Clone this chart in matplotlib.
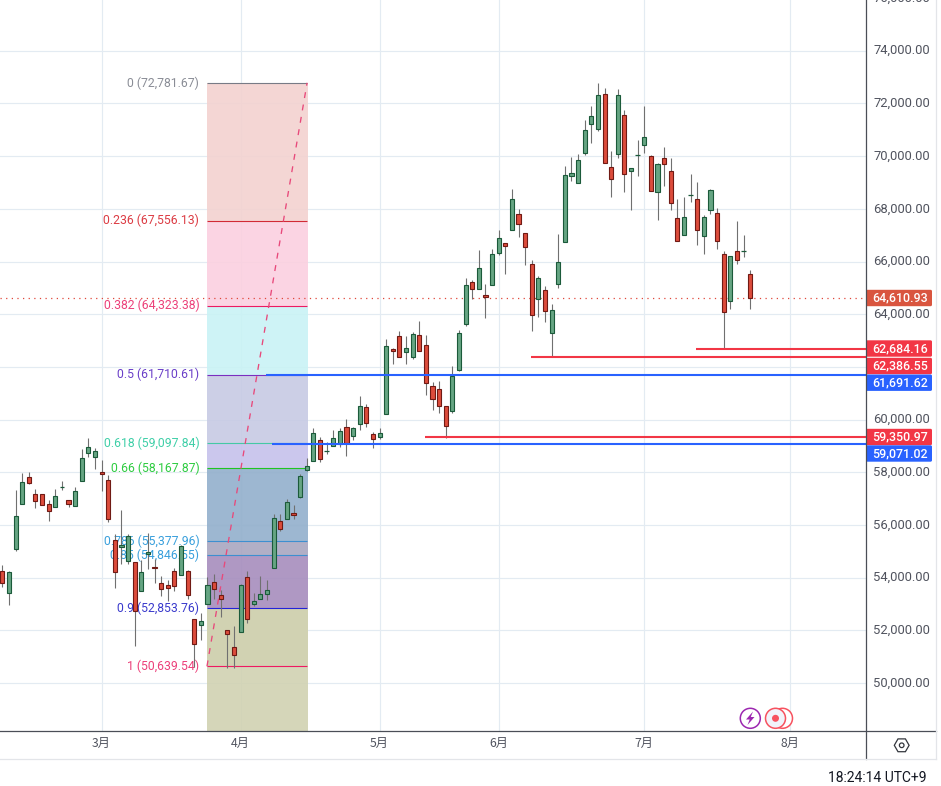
import matplotlib
matplotlib.use("Agg")
import matplotlib.pyplot as plt
from matplotlib.patches import Rectangle, Circle, Polygon, RegularPolygon, FancyBboxPatch

FONT = "Roboto"
CJK = ["Noto Sans CJK JP", "DejaVu Sans"]

opens = [54270,53440,55100,56810,57840,57190,57180,56800,56700,57440,56960,56740,57680,58750,58590,58020,57720,55450,55180,54650,
         54610,53510,54920,54420,53800,53740,54270,54120,54270,52450,52220,53020,53850,53360,52030,51390,51960,54040,53020,53210,
         53400,54380,56170,56240,56470,57060,58090,58440,59240,58820,59010,59090,59730,59390,59830,60490,59470,59350,60220,62690,
         63180,62560,62380,63220,62840,61290,61170,60530,60340,61890,63640,65230,64960,64740,65120,66330,66710,67200,67810,67090,
         65910,64580,64930,63290,65150,66750,69250,68980,70120,71220,71030,72360,69590,70080,71560,69440,70040,70420,70010,68640,
         69930,69440,67660,67010,68530,68380,66970,67960,67850,66290,64510,66400,66400,65530]
highs = [54470,54270,57320,57960,58000,57380,57190,56940,57380,57680,56960,57430,58870,59310,58910,58450,57890,55670,56580,55670,
         54610,54660,55710,54730,54060,53930,54380,55230,54310,52450,52680,54010,54160,53550,52030,52160,53750,54250,53420,54060,
         53900,56410,56410,57000,56750,57950,58560,59670,59350,59160,59590,59690,60010,59730,60880,60600,59540,59690,63070,62700,
         63380,63190,63330,63760,63230,61440,61450,60530,62020,63410,65380,65280,66420,65130,66480,67200,66710,68760,68010,67090,
         66060,65460,65080,64370,67060,69630,69980,70080,71370,71900,72790,72590,70210,72550,71750,69550,70630,71900,70040,69740,
         70360,69930,68380,68430,69340,69030,67770,68770,68050,66400,66220,67550,66990,65680]
lows = [53650,52960,55020,56810,57570,56650,56770,56150,56700,57320,56670,56740,57680,58580,58110,57290,56120,53610,54540,54540,
        51410,53510,54350,53820,53310,53130,53500,54120,53210,50620,51650,53020,53210,52510,50580,50580,51960,52300,52940,53210,
        53170,54380,55780,56240,56230,57040,58050,58440,58380,58680,59010,58980,58610,59210,59590,59710,58910,59260,60220,62130,
        62380,62130,62320,62610,60920,60350,60240,59310,60270,61830,63540,64580,64960,63840,65120,66240,65540,67200,66920,65850,
        63380,63910,63720,62370,64990,66750,69070,68980,70060,70490,70970,69740,68440,69940,68630,67970,69260,70100,68680,67590,
        68880,67970,66780,67010,68240,66640,66270,67820,66490,62684,64180,65920,66190,64180]
closes = [53820,54230,56360,57650,57600,56930,56770,56550,57110,57440,56810,57300,58560,58960,58810,57950,56240,54230,55260,55600,
          52720,54230,54990,54380,53590,53630,53700,55220,53360,51500,52370,53740,53590,53210,51880,51050,53740,52450,53100,53400,
          53550,56280,55860,56890,56390,57870,58250,59500,58490,58820,59310,59580,59110,59690,60530,59880,59280,59500,62800,62610,
          62380,62730,63260,62610,61400,60790,60530,59770,61660,63300,65120,64960,65760,64660,66290,66900,66590,68380,67430,66560,
          63980,65380,64130,64170,65990,69290,69360,69850,70990,71520,72320,69740,69130,72320,69320,69550,70040,70730,68680,69700,
          69700,68220,66780,67690,68530,67200,67690,68720,66780,64090,66210,66060,66400,64610.93]

month_labels = ["3月", "4月", "5月", "6月", "7月", "8月"]
month_bars = [15, 36, 57, 75, 97, 119]
price_ticks = [50000, 52000, 54000, 56000, 58000, 60000, 62000, 64000, 66000, 68000, 70000, 72000, 74000]
price_hidden = [62000]
price_clipped = 76000

fib_ratios = ["0", "0.236", "0.382", "0.5", "0.618", "0.66", "0.786", "0.85", "0.9", "1"]
fib_levels = [72781.67, 67556.13, 64323.38, 61710.61, 59097.84, 58167.87, 55377.96, 54846.55, 52853.76, 50639.54]
fib_line_colors = ["#787b86", "#d12a35", "#ec1a62", "#7b2fc0", "#45c9a5", "#22c322", "#3d8fd0", "#3d8fd0", "#2323d8", "#ee1a62"]
fib_text_colors = ["#8a8d96", "#dc3c44", "#ec407a", "#6a3fc8", "#3fcfa8", "#2ecc40", "#3aa0dc", "#3aa0dc", "#3a3acc", "#ec407a"]
fib_band_colors = ["#f3d2d0", "#fbd0e0", "#c9f2f5", "#c7cae4", "#c6c1ec", "#92afcc", "#a9a6c0", "#a68dbd", "#d1d2b2"]
fib_floor = 48185
fib_start, fib_end = 30.92, 46.2

blue_levels = [(61691.62, 39.8), (59071.02, 40.7)]
red_levels = [(62684.16, 104.8), (62386.55, 79.9), (59350.97, 63.9)]
last_price = 64610.93

tag_values = [64610.93, 62684.16, 62386.55, 61691.62, 59350.97, 59071.02]
tag_colors = ["#d9553f", "#f23645", "#f23645", "#2962ff", "#f23645", "#2962ff"]
tag_rows = [298, 348.5, 366, 382.7, 437, 453.5]

GRID = "#e3ebf2"
UP_FILL, UP_EDGE = "#66a583", "#1b5a3a"
DN_FILL, DN_EDGE = "#dc4c3c", "#701a14"
WICK = "#707070"
AXIS = "#4a4e57"
TEXT = "#50535e"

fig = plt.figure(figsize=(9.41, 7.86), dpi=100, facecolor="white")
W, H = 941.0, 786.0
ax = fig.add_axes([0, 1 - 731 / H, 866 / W, 731 / H])
ax.set_xlim(-0.352, 130.5)
ax.set_ylim(fib_floor, 75924)
ax.set_facecolor("white")
for s in ax.spines.values():
    s.set_visible(False)

# grid
for p in price_ticks:
    ax.axhline(p, color=GRID, lw=0.85, zorder=1)
for b in month_bars:
    ax.axvline(b, color=GRID, lw=0.85, zorder=1)

# axes ticks
ax.yaxis.tick_right()
ax.set_yticks(price_ticks)
ax.set_yticklabels(["" if p in price_hidden else f"{p:,.2f}" for p in price_ticks],
                   fontfamily=FONT, fontsize=9.4, color=TEXT, va="center")
ax.tick_params(axis="y", length=0, pad=5.3)
ax.set_xticks(month_bars)
ax.set_xticklabels(month_labels, fontfamily=CJK, fontsize=8.8, color=TEXT)
ax.tick_params(axis="x", length=0, pad=4.0)
ax.text(1 + 7.5 / 866, price_clipped, f"{price_clipped:,.2f}", transform=ax.get_yaxis_transform(),
        clip_on=False, fontfamily=FONT, fontsize=9.4, color=TEXT, va="center", ha="left")

# fib bands
edges = fib_levels + [fib_floor]
for top, bot, col in zip(edges[:-2], edges[1:-1], fib_band_colors):
    ax.add_patch(Rectangle((fib_start, bot), fib_end - fib_start, top - bot, fc=col, ec="none", alpha=0.9, zorder=2))
ax.add_patch(Rectangle((fib_start, fib_floor), fib_end - fib_start, fib_levels[-2] - fib_floor,
                       fc=fib_band_colors[-1], ec="none", alpha=0.9, zorder=2))
for r, lv, lc, tc in zip(fib_ratios, fib_levels, fib_line_colors, fib_text_colors):
    ax.plot([fib_start, fib_end - 0.15], [lv, lv], color=lc, lw=0.8, zorder=3, solid_capstyle="butt")
    ax.text(fib_start - 1.15, lv, f"{r} ({lv:,.2f})", color=tc, fontfamily=FONT, fontsize=8.8,
            ha="right", va="center", zorder=3)
ax.plot([fib_start, fib_end - 0.15], [fib_levels[-1], fib_levels[0]], color="#e8487a", lw=0.95,
        ls=(0, (4.5, 5)), zorder=4)

# last price and horizontal rays
ax.axhline(last_price, color="#e0473a", lw=0.9, ls=(0, (1, 3.5)), zorder=3)
for lv, x0 in blue_levels:
    ax.plot([x0, 131], [lv, lv], color="#2962ff", lw=1.5, zorder=6, solid_capstyle="butt")
for lv, x0 in red_levels:
    ax.plot([x0, 131], [lv, lv], color="#f23645", lw=1.5, zorder=6, solid_capstyle="butt")

# candles
bw = 0.62
for i, (o, h, l, c) in enumerate(zip(opens, highs, lows, closes)):
    up = c >= o
    ax.plot([i, i], [l, h], color=WICK, lw=0.8, zorder=5, solid_capstyle="butt")
    if o == c:
        ax.plot([i - bw / 2 - 0.05, i + bw / 2 + 0.05], [o, o], color=UP_EDGE, lw=0.9, zorder=5.5, solid_capstyle="butt")
    else:
        ax.add_patch(Rectangle((i - bw / 2, min(o, c)), bw, abs(c - o),
                               fc=UP_FILL if up else DN_FILL, ec=UP_EDGE if up else DN_EDGE, lw=0.8, zorder=5.5))

# overlay in pixels for the price-axis tags and chrome
ov = fig.add_axes([0, 0, 1, 1], zorder=10)
ov.set_xlim(0, W)
ov.set_ylim(H, 0)
ov.axis("off")
ov.patch.set_alpha(0)

ov.plot([0, 936.5], [731, 731], color=AXIS, lw=0.9)
ov.plot([866, 866], [0, 759], color=AXIS, lw=0.9)
ov.plot([0, 936.5], [759, 759], color="#e3e5e9", lw=0.9)
ov.plot([936.5, 936.5], [0, 759], color="#e3e5e9", lw=0.9)

for v, col, row in zip(tag_values, tag_colors, tag_rows):
    ov.add_patch(FancyBboxPatch((866, row - 8.2), 66, 16.4, boxstyle="round,pad=0,rounding_size=1.5",
                                fc=col, ec="none"))
    ov.text(900.2, row, f"{v:,.2f}", color="white", fontfamily=FONT, fontsize=8.9, fontweight="medium",
            ha="center", va="center")

ov.text(828, 778.5, "18:24:14 UTC+9", color="#131722", fontfamily=FONT, fontsize=10, ha="left", va="center")

# settings icon
ov.add_patch(RegularPolygon((901.7, 745.3), 6, radius=7.4, orientation=0.5236, fc="white", ec="#33363d", lw=0.9))
ov.add_patch(Circle((901.7, 745.3), 2.3, fc="white", ec="#33363d", lw=0.9))

# status icons
ov.add_patch(Circle((750.3, 718.3), 10, fc="white", ec="#9c27b0", lw=1.1))
ov.add_patch(Polygon([(753, 711.5), (746, 719.5), (749.7, 719.5), (747.5, 725), (754.5, 717), (750.8, 717)],
                     fc="#9c27b0", ec="none"))
ov.add_patch(Circle((782.5, 718.3), 10, fc="white", ec="#f7525f", lw=1.1))
ov.add_patch(Circle((775.5, 718.3), 10, fc="#f1f3fa", ec="#f7525f", lw=1.1))
ov.add_patch(Circle((775.5, 718.3), 3.5, fc="#f7525f", ec="none"))

fig.savefig("out.png", dpi=100, facecolor="white")
